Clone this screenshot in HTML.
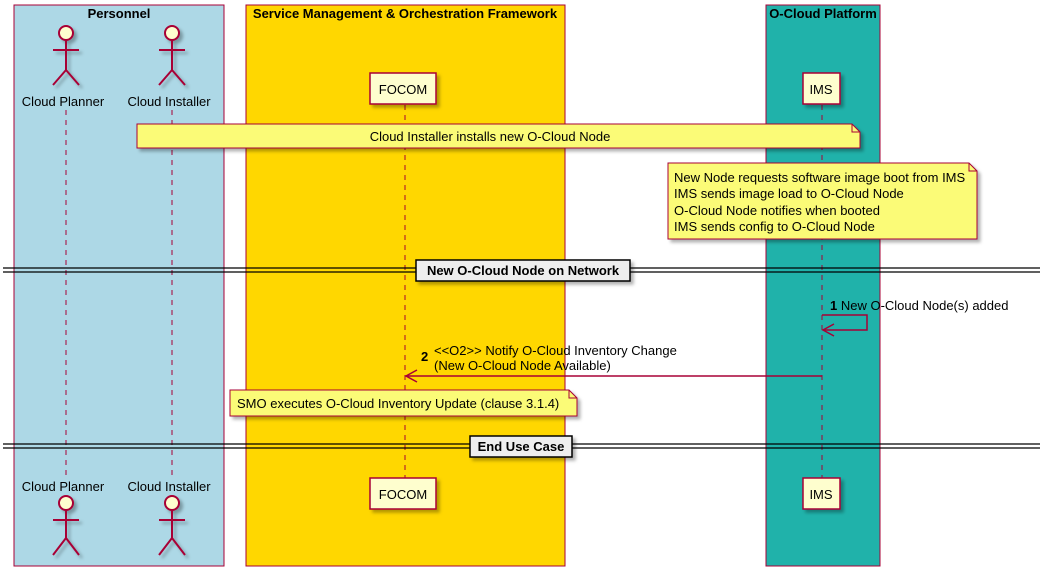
<!DOCTYPE html>
<html><head><style>body{margin:0;background:#fff}svg{display:block}text{font-family:"Liberation Sans",sans-serif;font-size:13px;fill:#000}</style></head><body>
<svg width="1048" height="575" viewBox="0 0 1048 575" xmlns="http://www.w3.org/2000/svg">
<defs><filter id="sh"><feDropShadow dx="3" dy="3" stdDeviation="1.5" flood-color="#000" flood-opacity="0.3"/></filter></defs>
<rect x="14" y="5" width="210" height="561" fill="#ADD8E6" stroke="#A80036" stroke-width="1"/>
<rect x="246" y="5" width="319" height="561" fill="#FFD700" stroke="#A80036" stroke-width="1"/>
<rect x="766" y="5" width="114" height="561" fill="#20B2AA" stroke="#A80036" stroke-width="1"/>
<text x="119" y="18" text-anchor="middle" font-weight="bold">Personnel</text>
<text x="405" y="18" text-anchor="middle" font-weight="bold">Service Management &amp; Orchestration Framework</text>
<text x="823" y="18" text-anchor="middle" font-weight="bold">O-Cloud Platform</text>
<g stroke="#A80036" stroke-dasharray="5,5" stroke-width="1">
<line x1="66" y1="110" x2="66" y2="476"/><line x1="172" y1="110" x2="172" y2="476"/>
<line x1="405" y1="105" x2="405" y2="478"/><line x1="822" y1="105" x2="822" y2="478"/></g>
<g stroke="#A80036" stroke-width="2" fill="#FEFECE" filter="url(#sh)">
<g id="a1"><circle cx="66" cy="33" r="7"/><line x1="66" y1="40" x2="66" y2="70"/><line x1="53" y1="50" x2="79" y2="50"/><line x1="66" y1="70" x2="53" y2="85" fill="none"/><line x1="66" y1="70" x2="79" y2="85"/></g>
<g><circle cx="172" cy="33" r="7"/><line x1="172" y1="40" x2="172" y2="70"/><line x1="159" y1="50" x2="185" y2="50"/><line x1="172" y1="70" x2="159" y2="85"/><line x1="172" y1="70" x2="185" y2="85"/></g>
<g><circle cx="66" cy="503" r="7"/><line x1="66" y1="510" x2="66" y2="538"/><line x1="53" y1="520" x2="79" y2="520"/><line x1="66" y1="538" x2="53" y2="555"/><line x1="66" y1="538" x2="79" y2="555"/></g>
<g><circle cx="172" cy="503" r="7"/><line x1="172" y1="510" x2="172" y2="538"/><line x1="159" y1="520" x2="185" y2="520"/><line x1="172" y1="538" x2="159" y2="555"/><line x1="172" y1="538" x2="185" y2="555"/></g>
</g>
<text x="63" y="106" text-anchor="middle">Cloud Planner</text><text x="169" y="106" text-anchor="middle">Cloud Installer</text>
<text x="63" y="491" text-anchor="middle">Cloud Planner</text><text x="169" y="491" text-anchor="middle">Cloud Installer</text>
<g stroke="#A80036" stroke-width="1.5" fill="#FEFECE" filter="url(#sh)">
<rect x="370" y="73" width="66" height="31"/><rect x="803" y="73" width="37" height="31"/>
<rect x="370" y="478" width="66" height="31"/><rect x="803" y="478" width="37" height="31"/></g>
<text x="403" y="94" text-anchor="middle">FOCOM</text><text x="821" y="94" text-anchor="middle">IMS</text>
<text x="403" y="499" text-anchor="middle">FOCOM</text><text x="821" y="499" text-anchor="middle">IMS</text>
<g stroke="#A80036" stroke-width="1" fill="#FBFB77" filter="url(#sh)">
<path d="M137 124 H852 L860 132 V148 H137 Z"/>
<path d="M668 163 H969 L977 171 V239 H668 Z"/>
<path d="M230 390 H569 L577 398 V416 H230 Z"/></g>
<g stroke="#A80036" fill="none"><path d="M852 124 V132 H860"/><path d="M969 163 V171 H977"/><path d="M569 390 V398 H577"/></g>
<text x="490" y="141" text-anchor="middle">Cloud Installer installs new O-Cloud Node</text>
<text x="674" y="182">New Node requests software image boot from IMS</text>
<text x="674" y="198">IMS sends image load to O-Cloud Node</text>
<text x="674" y="215">O-Cloud Node notifies when booted</text>
<text x="674" y="231">IMS sends config to O-Cloud Node</text>
<text x="237" y="408">SMO executes O-Cloud Inventory Update (clause 3.1.4)</text>
<g stroke="#000" stroke-width="1.2"><line x1="3" y1="268" x2="1040" y2="268"/><line x1="3" y1="272" x2="1040" y2="272"/>
<line x1="3" y1="444" x2="1040" y2="444"/><line x1="3" y1="448" x2="1040" y2="448"/></g>
<g stroke="#000" stroke-width="1.5" fill="#EEE" filter="url(#sh)"><rect x="416" y="260" width="214" height="21"/><rect x="470" y="436" width="102" height="21"/></g>
<text x="523" y="275" text-anchor="middle" font-weight="bold" font-size="12">New O-Cloud Node on Network</text>
<text x="521" y="451" text-anchor="middle" font-weight="bold" font-size="12">End Use Case</text>
<g stroke="#A80036" stroke-width="1.5" fill="none">
<path d="M822 315 H867 V330 H823"/><path d="M834 324 L823 330 L834 336"/>
<line x1="822" y1="376" x2="406" y2="376"/><path d="M417 370 L406 376 L417 382"/></g>
<text x="830" y="310"><tspan font-weight="bold">1</tspan> New O-Cloud Node(s) added</text>
<text x="421" y="361" font-weight="bold">2</text>
<text x="434" y="355">&lt;&lt;O2&gt;&gt; Notify O-Cloud Inventory Change</text>
<text x="434" y="370">(New O-Cloud Node Available)</text>
</svg></body></html>
